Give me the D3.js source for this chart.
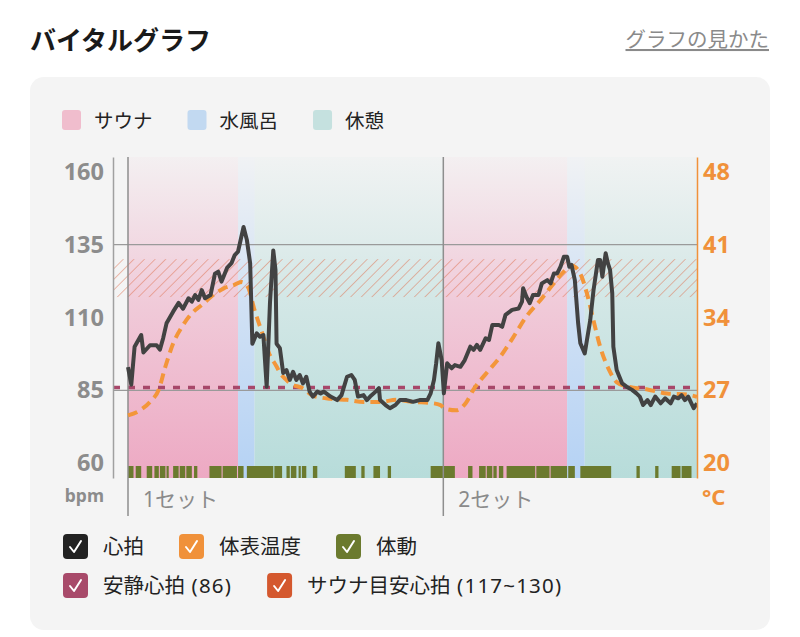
<!DOCTYPE html>
<html>
<head>
<meta charset="utf-8">
<script src="https://cdn.jsdelivr.net/npm/d3@7"></script>
<style>
  body { margin: 0; background: #fff; }
  svg { display: block; font-family: "Noto Sans", "Noto Sans CJK JP", sans-serif; }
</style>
</head>
<body>
<div id="chart"></div>
<script>
// time in minutes from the start of set 1
const phases = [
  { type: "sauna", start: 0, end: 10.0 },
  { type: "water", start: 10.0, end: 11.5 },
  { type: "rest", start: 11.5, end: 28.65 },
  { type: "sauna", start: 28.65, end: 39.9 },
  { type: "water", start: 39.9, end: 41.5 },
  { type: "rest", start: 41.5, end: 51.7 }
];
const setStarts = [0, 28.65];
const setLabels = ["1セット", "2セット"];

const heartRate = [
  [0.0, 93], [0.3, 87], [0.6, 100], [1.2, 104], [1.4, 98], [2.0, 100.5], [2.6, 100.5], [2.9, 99],
  [3.2, 103], [3.5, 108], [4.1, 112], [4.6, 115], [5.0, 113], [5.5, 116.6], [5.8, 115.4], [6.1, 117.7],
  [6.4, 116], [6.7, 119.4], [7.0, 116.6], [7.5, 117.7], [7.9, 125], [8.2, 125.7], [8.5, 122.3], [9.0, 127],
  [9.4, 128.6], [9.7, 131.4], [10.0, 132.6], [10.5, 141], [10.8, 136.6], [11.1, 128.6], [11.3, 101], [11.7, 104.6],
  [12.0, 103.4], [12.3, 104], [12.6, 86.3], [12.9, 115], [13.2, 133], [13.4, 126.3], [13.5, 101], [13.8, 99.5],
  [14.1, 91], [14.4, 92], [14.7, 88.6], [15.0, 91.4], [15.3, 88.6], [15.6, 90.3], [15.9, 87.4], [16.2, 89.7],
  [16.5, 84.6], [16.8, 82.9], [17.2, 84.6], [17.5, 84], [17.8, 84.6], [18.4, 82.9], [19.0, 81.7], [19.4, 83.4],
  [19.9, 89.7], [20.3, 90.3], [20.6, 88.6], [20.9, 82.9], [21.4, 83.4], [21.7, 81.7], [22.0, 82.9], [22.5, 84.6],
  [22.8, 85.8], [22.9, 81.7], [23.4, 80], [23.8, 78.9], [24.3, 80], [24.7, 81.7], [25.3, 81.7], [25.9, 81.1],
  [26.5, 81.7], [27.2, 81.7], [27.5, 84], [27.8, 88.6], [28.0, 94.3], [28.2, 101.2], [28.5, 95.4], [28.7, 84],
  [29.0, 94.3], [29.4, 92.6], [29.7, 93.7], [30.2, 93.1], [30.6, 95.4], [31.1, 100], [31.4, 98.9], [31.7, 100.6],
  [32.0, 98.9], [32.5, 102.9], [32.8, 102.3], [33.1, 107.4], [33.7, 107.4], [34.0, 106.8], [34.3, 110.9], [34.9, 112.6],
  [35.5, 113.1], [35.8, 115.4], [35.9, 120], [36.2, 117.1], [36.5, 114.9], [36.8, 117.7], [37.3, 117.7], [37.6, 121.7],
  [38.1, 122.8], [38.4, 121.7], [38.7, 125.1], [39.0, 125.1], [39.3, 127.4], [39.6, 130.8], [39.9, 130.8], [40.1, 127.4],
  [40.3, 128], [40.6, 122.8], [40.9, 108], [41.1, 101.2], [41.5, 97.7], [41.7, 102.3], [42.0, 109.1], [42.3, 119.4],
  [42.7, 129.7], [42.9, 129.7], [43.1, 124], [43.4, 132], [43.6, 128.6], [43.8, 126.3], [44.0, 118.3], [44.1, 100],
  [44.4, 92], [44.9, 87.4], [45.3, 86.3], [45.8, 85.2], [46.2, 84], [46.5, 82.9], [46.8, 80], [47.2, 81.7],
  [47.5, 80], [47.9, 82.9], [48.4, 80.6], [48.8, 82.3], [49.3, 80.6], [49.6, 82.9], [50.0, 82.3], [50.3, 83.4],
  [50.6, 81.7], [50.9, 82.9], [51.4, 78.9], [51.7, 80.6]
];

const bodyTemp = [
  [0.0, 24.6], [1.1, 25.1], [2.0, 25.9], [2.8, 27.1], [3.4, 29.3], [4.1, 31.5], [4.9, 33.1], [5.8, 34.4],
  [6.7, 35.2], [7.8, 36.2], [8.7, 36.8], [9.6, 37.1], [10.3, 37.4], [10.9, 36.9], [11.5, 34.7], [12.2, 32.5],
  [12.8, 30.6], [13.5, 29.3], [13.8, 28.7], [14.4, 28.0], [14.7, 27.7], [15.9, 27.2], [16.8, 26.5], [18.4, 26.2],
  [19.9, 26.1], [21.4, 25.9], [22.9, 25.9], [24.4, 26.1], [25.9, 25.9], [27.5, 25.8], [28.4, 25.6], [28.7, 25.3],
  [29.8, 25.1], [30.7, 25.8], [31.4, 27.1], [32.6, 28.7], [33.8, 30.2], [35.0, 32.1], [36.2, 34.1], [37.5, 35.7],
  [38.7, 37.3], [39.6, 38.4], [40.3, 39.0], [41.1, 38.2], [41.7, 36.3], [42.3, 33.7], [42.9, 31.2], [43.7, 29.0],
  [44.4, 27.8], [45.3, 27.4], [47.2, 27.1], [49.0, 26.7], [50.8, 26.6], [51.7, 26.4]
];

const movement = [
  [0.0, 0.5], [0.7, 1.2], [1.7, 2.2], [2.4, 2.8], [2.9, 3.4], [3.5, 3.7], [4.1, 4.6], [4.7, 5.2],
  [5.3, 5.8], [6.0, 6.3], [7.4, 8.5], [8.6, 9.9], [10.0, 10.5], [10.8, 13.2], [13.3, 14.0], [14.4, 14.7],
  [14.8, 15.3], [15.5, 15.7], [15.8, 16.2], [16.8, 17.2], [19.7, 20.7], [21.2, 21.5], [22.3, 22.9], [23.6, 23.9],
  [27.5, 29.7], [30.9, 31.3], [31.9, 32.5], [32.6, 33.1], [33.2, 33.5], [33.7, 34.1], [34.4, 37.0], [37.1, 38.3],
  [38.4, 39.9], [40.0, 40.6], [41.1, 43.9], [46.2, 46.5], [47.9, 48.2], [49.4, 50.2], [50.3, 51.2]
];

const restingHR = 86;
const targetHR = [117, 130];
const hrTicks = [60, 85, 110, 135, 160];
const tempTicks = [20, 27, 34, 41, 48];
const gridLines = [85, 135];

const phaseLegend = [
  { type: "sauna", label: "サウナ" },
  { type: "water", label: "水風呂" },
  { type: "rest", label: "休憩" }
];
const seriesLegend = [
  [{ label: "心拍", color: "#222222" }, { label: "体表温度", color: "#f0913a" }, { label: "体動", color: "#6b7a2e" }],
  [{ label: "安静心拍", extra: " (86)", color: "#a84a6a" }, { label: "サウナ目安心拍", extra: " (117~130)", color: "#d4582e" }]
];

const phaseColor = { sauna: "#eda9c3", water: "#b5d2f4", rest: "#b7dcda" };
const phaseSwatch = { sauna: "#f0bdcd", water: "#c2d9f1", rest: "#c5e1df" };

const W = 800, H = 637;
const plotLeft = 113, plotX0 = 128, plotRight = 697, plotTop = 157, plotBottom = 478;

const svg = d3.select("#chart").append("svg").attr("width", W).attr("height", H);
const defs = svg.append("defs");

// title row
svg.append("text").attr("x", 30).attr("y", 50)
  .attr("font-size", 26).attr("font-weight", 700).attr("fill", "#1a1a1a").text("バイタルグラフ");
svg.append("text").attr("x", 769).attr("y", 47).attr("text-anchor", "end")
  .attr("font-size", 20.5).attr("fill", "#8a8a8a").attr("text-decoration", "underline").text("グラフの見かた");

svg.append("rect").attr("x", 30).attr("y", 77).attr("width", 740).attr("height", 553)
  .attr("rx", 14).attr("fill", "#f4f4f4");

// phase legend
let lx = 62;
phaseLegend.forEach(d => {
  svg.append("rect").attr("x", lx).attr("y", 110).attr("width", 19).attr("height", 20).attr("rx", 3)
    .attr("fill", phaseSwatch[d.type]);
  const t = svg.append("text").attr("x", lx + 32).attr("y", 128).attr("font-size", 19.5)
    .attr("fill", "#222").text(d.label);
  lx += 32 + t.node().getComputedTextLength() + 35;
});

const x = d3.scaleLinear().domain([0, 51.7]).range([plotX0, plotRight]);
const y = d3.scaleLinear().domain([55, 165]).range([plotBottom, plotTop]);
const yT = d3.scaleLinear().domain([20 - 5 * 7 / 25, 20 + 105 * 7 / 25]).range([plotBottom, plotTop]);

// band gradients
Object.entries(phaseColor).forEach(([k, c]) => {
  const g = defs.append("linearGradient").attr("id", "grad-" + k)
    .attr("x1", 0).attr("y1", 0).attr("x2", 0).attr("y2", 1);
  g.append("stop").attr("offset", "0%").attr("stop-color", c).attr("stop-opacity", 0.06);
  g.append("stop").attr("offset", "45%").attr("stop-color", c).attr("stop-opacity", 0.55);
  g.append("stop").attr("offset", "100%").attr("stop-color", c).attr("stop-opacity", 1);
});

const hatch = defs.append("pattern").attr("id", "hatch").attr("patternUnits", "userSpaceOnUse")
  .attr("width", 7.5).attr("height", 7.5).attr("patternTransform", "rotate(45)");
hatch.append("line").attr("x1", 0).attr("y1", 0).attr("x2", 0).attr("y2", 7.5)
  .attr("stroke", "#e0704e").attr("stroke-width", 1.3).attr("stroke-opacity", 0.7);

defs.append("clipPath").attr("id", "clip-plot").append("rect")
  .attr("x", plotLeft).attr("y", plotTop).attr("width", plotRight - plotLeft).attr("height", plotBottom - plotTop);

svg.append("g").selectAll("rect").data(phases).join("rect")
  .attr("x", d => x(d.start)).attr("width", d => x(d.end) - x(d.start))
  .attr("y", plotTop).attr("height", plotBottom - plotTop)
  .attr("fill", d => `url(#grad-${d.type})`);

svg.append("rect").attr("x", plotLeft).attr("width", plotRight - plotLeft)
  .attr("y", y(targetHR[1])).attr("height", y(targetHR[0]) - y(targetHR[1]))
  .attr("fill", "url(#hatch)");

svg.append("g").selectAll("line").data(gridLines).join("line")
  .attr("x1", plotLeft).attr("x2", plotRight).attr("y1", d => y(d)).attr("y2", d => y(d))
  .attr("stroke", "#9a9a9a").attr("stroke-width", 1.3);

svg.append("line").attr("x1", plotLeft).attr("x2", plotRight)
  .attr("y1", y(restingHR)).attr("y2", y(restingHR))
  .attr("stroke", "#a8476a").attr("stroke-width", 3.5).attr("stroke-dasharray", "7,8");

// movement
svg.append("g").selectAll("rect").data(movement).join("rect")
  .attr("x", d => x(d[0])).attr("width", d => x(d[1]) - x(d[0]))
  .attr("y", plotBottom - 12).attr("height", 12).attr("fill", "#6b7a2e");

// set dividers
svg.append("g").selectAll("line").data(setStarts).join("line")
  .attr("x1", d => x(d)).attr("x2", d => x(d)).attr("y1", plotTop).attr("y2", 516)
  .attr("stroke", "#8e8e8e").attr("stroke-width", 1.5);
svg.append("g").selectAll("text").data(setStarts).join("text")
  .attr("x", d => x(d) + 15).attr("y", 507).attr("font-size", 21).attr("fill", "#8a8a8a")
  .text((d, i) => setLabels[i]);

const plot = svg.append("g").attr("clip-path", "url(#clip-plot)");

plot.append("path").datum(bodyTemp)
  .attr("fill", "none").attr("stroke", "#f3963a").attr("stroke-width", 4)
  .attr("stroke-dasharray", "10,6")
  .attr("d", d3.line().x(d => x(d[0])).y(d => yT(d[1])).curve(d3.curveMonotoneX));

plot.append("path").datum(heartRate)
  .attr("fill", "none").attr("stroke", "#424242").attr("stroke-width", 4)
  .attr("stroke-linejoin", "round")
  .attr("d", d3.line().x(d => x(d[0])).y(d => y(d[1])));

// axes
const yAxis = svg.append("g").attr("transform", `translate(${plotLeft},0)`)
  .call(d3.axisLeft(y).tickValues(hrTicks).tickSize(0).tickPadding(9));
yAxis.select(".domain").attr("stroke", "#a0a0a0").attr("stroke-width", 1.5);
yAxis.selectAll("text").attr("font-family", "'Noto Sans', sans-serif").attr("font-size", 23.5)
  .attr("font-weight", 700).attr("fill", "#8c8c8c");

const tAxis = svg.append("g").attr("transform", `translate(${plotRight},0)`)
  .call(d3.axisRight(yT).tickValues(tempTicks).tickSize(0).tickPadding(6));
tAxis.select(".domain").attr("stroke", "#f0913a").attr("stroke-width", 1.5);
tAxis.selectAll("text").attr("font-family", "'Noto Sans', sans-serif").attr("font-size", 23.5)
  .attr("font-weight", 700).attr("fill", "#f0913a");

svg.append("text").attr("x", 104).attr("y", 502).attr("text-anchor", "end")
  .attr("font-family", "'Noto Sans', sans-serif").attr("font-size", 17.5).attr("font-weight", 700)
  .attr("fill", "#8c8c8c").text("bpm");
svg.append("text").attr("x", 702).attr("y", 505)
  .attr("font-family", "'Noto Sans', sans-serif").attr("font-size", 22).attr("font-weight", 700)
  .attr("fill", "#f0913a").text("°C");

// series legend
seriesLegend.forEach((row, r) => {
  let cx = 63;
  const yy = 534 + r * 39;
  row.forEach(d => {
    svg.append("rect").attr("x", cx).attr("y", yy).attr("width", 25).attr("height", 25).attr("rx", 4)
      .attr("fill", d.color);
    svg.append("path").attr("d", `M${cx + 7},${yy + 13} L${cx + 11},${yy + 18} L${cx + 18},${yy + 7}`)
      .attr("fill", "none").attr("stroke", "#fff").attr("stroke-width", 2)
      .attr("stroke-linecap", "round").attr("stroke-linejoin", "round");
    const t = svg.append("text").attr("x", cx + 40).attr("y", yy + 20).attr("font-size", 20.5)
      .attr("fill", "#222");
    t.append("tspan").text(d.label);
    if (d.extra) t.append("tspan").attr("letter-spacing", 1.2).text(d.extra);
    cx += 40 + t.node().getComputedTextLength() + 35;
  });
});
</script>
</body>
</html>
